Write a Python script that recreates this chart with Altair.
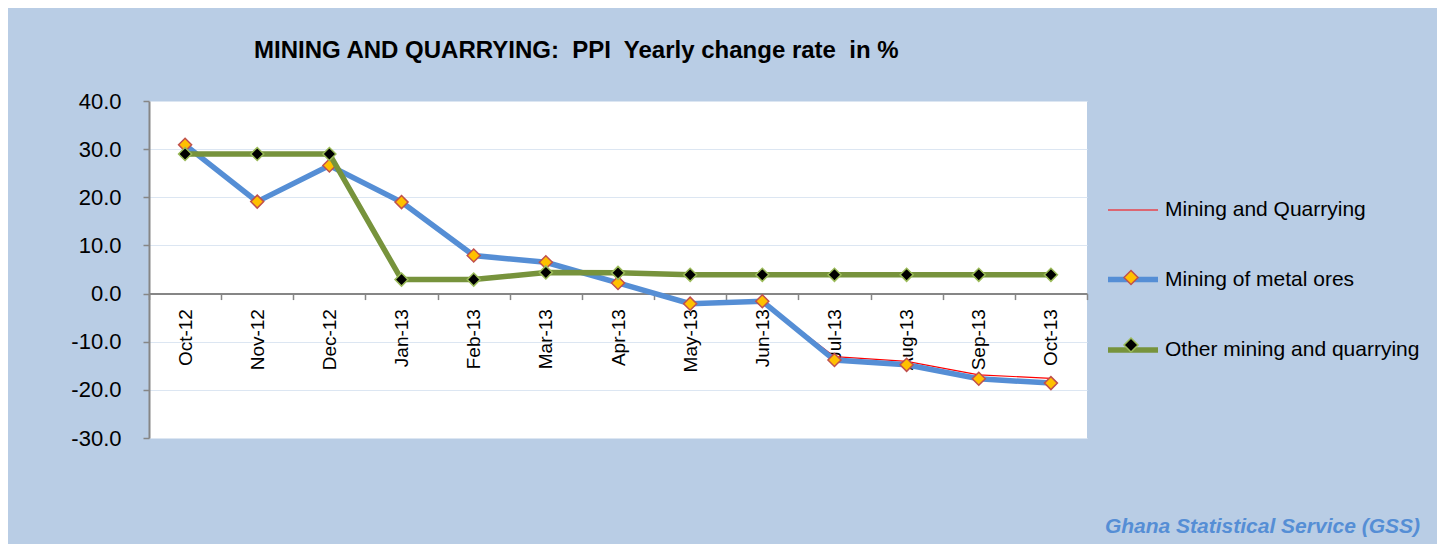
import altair as alt
import pandas as pd

months = ["Oct-12", "Nov-12", "Dec-12", "Jan-13", "Feb-13", "Mar-13", "Apr-13",
          "May-13", "Jun-13", "Jul-13", "Aug-13", "Sep-13", "Oct-13"]
series_names = ["Mining and Quarrying", "Mining of metal ores", "Other mining and quarrying"]
mining_quarrying = [30.8, 19.1, 26.6, 18.8, 7.8, 6.4, 2.2, -2.1, -1.6, -13.1, -14.1, -16.9, -17.6]
metal_ores = [30.9, 19.1, 26.6, 19.0, 7.9, 6.5, 2.2, -2.1, -1.6, -13.8, -14.8, -17.7, -18.6]
other_mining = [29.0, 29.0, 29.0, 2.9, 2.9, 4.4, 4.3, 3.9, 3.9, 3.9, 3.9, 3.9, 3.9]
marker_keys = ["mq", "metal", "other"]
y_ticks = [-30, -20, -10, 0, 10, 20, 30, 40]
TITLE = "MINING AND QUARRYING:\u00a0 PPI\u00a0 Yearly change rate\u00a0 in %"
SOURCE = "Ghana Statistical Service (GSS)"

rows = []
for name, key, vals in zip(series_names, marker_keys, [mining_quarrying, metal_ores, other_mining]):
    for m, v in zip(months, vals):
        rows.append({"month": m, "series": name, "marker": key, "value": v})
df = pd.DataFrame(rows)

W, H = 938, 337
FONT = "Liberation Sans"
AX = "#868686"
zero_offset = -H * (0 - (-30)) / (40 - (-30))

x_enc = alt.X(
    "month:N", sort=months, bandPosition=0.5,
    scale=alt.Scale(type="band", paddingInner=0, paddingOuter=0),
    axis=alt.Axis(title=None, labelAngle=-90, labelAlign="right", labelBaseline="middle",
                  tickBand="extent", tickSize=6, tickWidth=1.5, labelPadding=9,
                  offset=zero_offset, domainColor=AX, domainWidth=2, tickColor=AX,
                  grid=False, labelFont=FONT, labelFontSize=19, labelColor="black"),
)
y_enc = alt.Y(
    "value:Q", scale=alt.Scale(domain=[-30, 40], nice=False, zero=False),
    axis=alt.Axis(title=None, values=y_ticks,
                  labelExpr="replace(format(datum.value, '.1f'), '\u2212', '-')",
                  tickSize=6, tickWidth=1.5, labelPadding=22, domainColor=AX, domainWidth=2,
                  tickColor=AX, gridColor="#DCE6F2", gridWidth=1,
                  labelFont=FONT, labelFontSize=22, labelColor="black"),
)

line_legend = alt.Legend(
    orient="none", legendX=956, legendY=83, title=None, symbolType="stroke",
    symbolSize=2500, labelFont=FONT, labelFontSize=21, labelColor="black",
    labelOffset=4, rowPadding=31.5, padding=0, labelLimit=500, symbolOpacity=1,
)
color_enc = alt.Color(
    "series:N",
    scale=alt.Scale(domain=series_names, range=["#FF0000", "#558ED5", "#77933C"]),
    legend=line_legend,
)
width_enc = alt.StrokeWidth(
    "series:N",
    scale=alt.Scale(type="ordinal", domain=series_names, range=[1.2, 5.5, 5.5]),
    legend=line_legend,
)

DIAMOND = "M0,-0.28L0.28,0L0,0.28L-0.28,0Z"
marker_legend = alt.Legend(
    orient="none", legendX=956, legendY=83, title=None, symbolType=DIAMOND,
    symbolSize=2500, labelFont=FONT, labelFontSize=21, labelExpr="''",
    labelOffset=4, rowPadding=31.5, padding=0, symbolStrokeWidth=1.5, symbolOpacity=1,
)
fill_enc = alt.Fill(
    "marker:N",
    scale=alt.Scale(domain=marker_keys, range=["transparent", "#FFC000", "#000000"]),
    legend=marker_legend,
)
mstroke_enc = alt.Stroke(
    "marker:N",
    scale=alt.Scale(domain=marker_keys, range=["transparent", "#C0504D", "#9BBB59"]),
    legend=marker_legend,
)

base = alt.Chart(df)

def line(name):
    return base.transform_filter(alt.datum.series == name).mark_line().encode(
        x=x_enc, y=y_enc, color=color_enc, strokeWidth=width_enc)

def pts(key):
    return base.transform_filter(alt.datum.marker == key).mark_point(
        shape="diamond", filled=True, size=170, strokeWidth=1.5, opacity=1
    ).encode(x=x_enc, y=y_enc, fill=fill_enc, stroke=mstroke_enc)

caption = alt.Chart(pd.DataFrame({"t": [SOURCE]})).mark_text(
    align="right", baseline="alphabetic", font=FONT, fontSize=21, fontStyle="italic",
    fontWeight="bold", color="#558ED5"
).encode(text="t:N", x=alt.value(1271), y=alt.value(432))

chart = alt.layer(
    line(series_names[0]),
    line(series_names[1]),
    pts("metal"),
    line(series_names[2]),
    pts("other"),
    caption,
).properties(
    width=W, height=H,
    title=alt.Title(TITLE, anchor="start", frame="group", dx=105, offset=27,
                    font=FONT, fontSize=24, fontWeight="bold", color="black"),
    autosize=alt.AutoSizeParams(type="none"),
    padding={"left": 141, "top": 93, "right": 350, "bottom": 106},
    background="#B9CDE5",
).configure_view(fill="white", stroke=None)

chart.save("out.html", embed_options={"renderer": "svg", "actions": False})
